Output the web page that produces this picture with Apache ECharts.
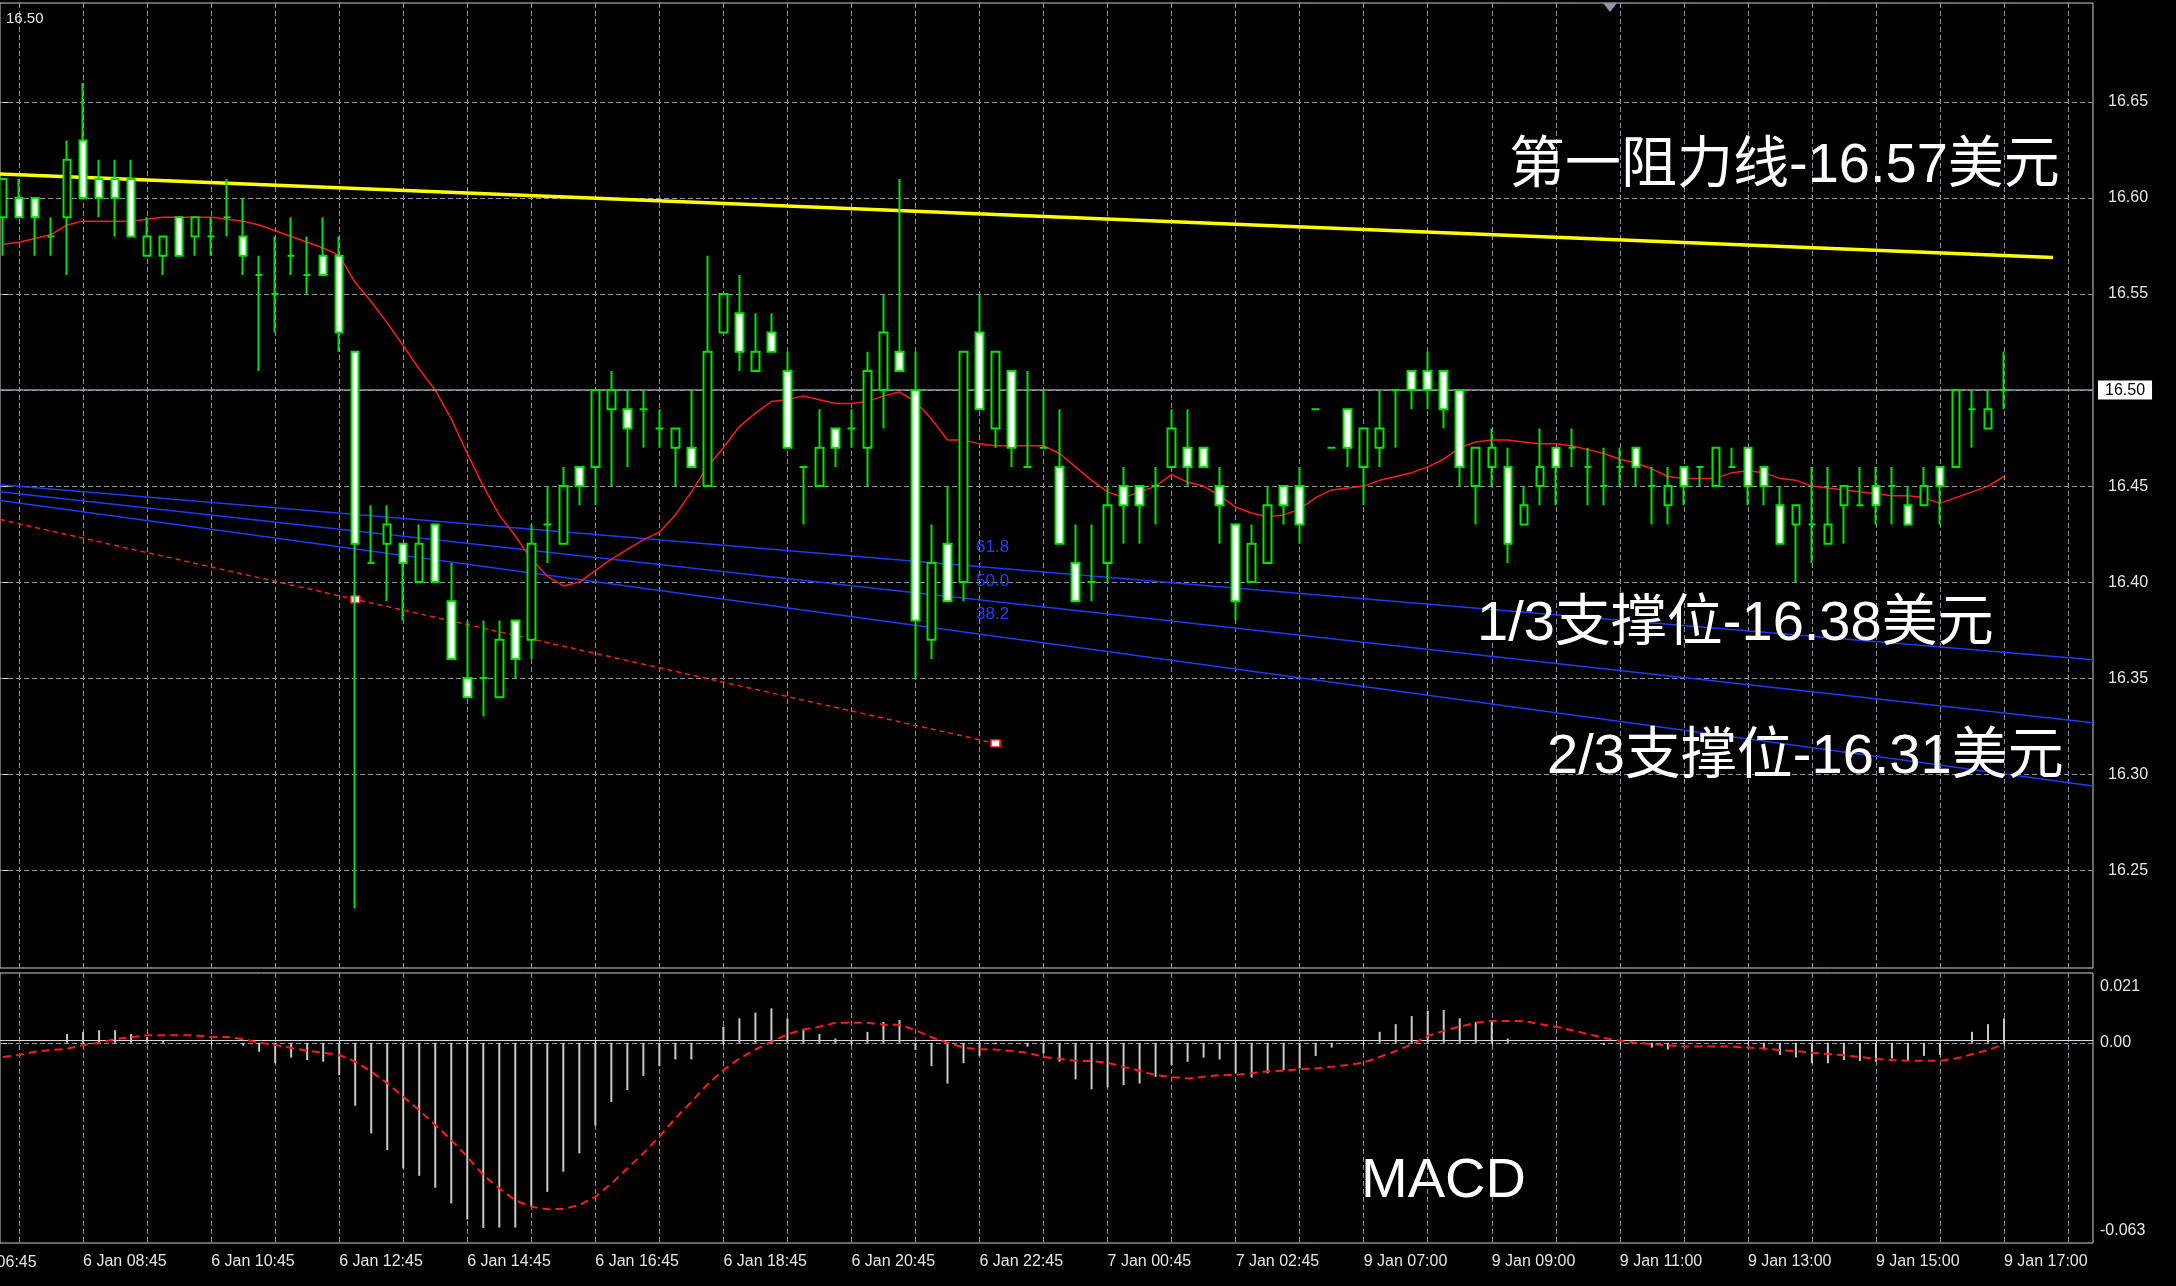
<!DOCTYPE html>
<html>
<head>
<meta charset="utf-8">
<script src="https://cdn.jsdelivr.net/npm/echarts@6/dist/echarts.min.js"></script>
<style>
html,body{margin:0;padding:0;background:#000;}
#chart{width:2176px;height:1286px;}
</style>
</head>
<body>
<div id="chart"></div>
<script>
// ---------- DATA (15-minute bars, k = 0..125) ----------
const opens = [16.59,16.60,16.60,16.58,16.59,16.63,16.61,16.61,16.61,16.57,
 16.57,16.59,16.58,16.58,16.59,16.58,16.56,16.55,16.57,16.56,
 16.57,16.57,16.52,16.41,16.42,16.42,16.40,16.43,16.39,16.35,
 16.35,16.34,16.38,16.37,16.43,16.42,16.46,16.46,16.49,16.49,
 16.49,16.48,16.47,16.47,16.45,16.53,16.54,16.51,16.53,16.51,
 16.46,16.45,16.48,16.48,16.47,16.50,16.52,16.50,16.37,16.42,
 16.40,16.53,16.48,16.51,16.46,16.47,16.46,16.41,16.40,16.41,
 16.45,16.45,16.45,16.46,16.47,16.47,16.45,16.43,16.40,16.41,
 16.45,16.45,16.49,16.47,16.49,16.46,16.47,16.50,16.51,16.51,
 16.51,16.50,16.45,16.46,16.46,16.43,16.45,16.47,16.47,16.46,
 16.45,16.46,16.47,16.45,16.44,16.46,16.46,16.45,16.46,16.47,
 16.46,16.44,16.43,16.43,16.42,16.44,16.44,16.45,16.45,16.44,
 16.44,16.46,16.46,16.49,16.48,16.50];
const closes = [16.61,16.59,16.59,16.58,16.62,16.60,16.60,16.60,16.58,16.58,
 16.58,16.57,16.59,16.58,16.59,16.57,16.56,16.55,16.57,16.56,
 16.56,16.53,16.42,16.41,16.43,16.41,16.42,16.40,16.36,16.34,
 16.35,16.37,16.36,16.42,16.43,16.45,16.45,16.50,16.50,16.48,
 16.49,16.48,16.48,16.46,16.52,16.55,16.52,16.52,16.52,16.47,
 16.46,16.47,16.47,16.48,16.51,16.53,16.51,16.38,16.41,16.39,
 16.52,16.49,16.52,16.47,16.46,16.47,16.42,16.39,16.40,16.44,
 16.44,16.44,16.45,16.48,16.46,16.46,16.44,16.39,16.42,16.44,
 16.44,16.43,16.49,16.47,16.47,16.48,16.48,16.50,16.50,16.50,
 16.49,16.46,16.47,16.47,16.42,16.44,16.46,16.46,16.47,16.46,
 16.45,16.46,16.46,16.45,16.45,16.45,16.46,16.47,16.46,16.45,
 16.45,16.42,16.44,16.43,16.43,16.45,16.44,16.44,16.45,16.43,
 16.45,16.45,16.50,16.49,16.49,16.50];
const lows = [16.57,16.59,16.57,16.57,16.56,16.60,16.59,16.58,16.58,16.57,
 16.56,16.57,16.57,16.57,16.58,16.56,16.51,16.53,16.56,16.55,
 16.56,16.52,16.23,16.41,16.39,16.38,16.40,16.40,16.36,16.34,
 16.33,16.34,16.35,16.36,16.41,16.42,16.44,16.44,16.45,16.46,
 16.47,16.47,16.45,16.46,16.45,16.53,16.51,16.51,16.52,16.47,
 16.43,16.45,16.46,16.47,16.45,16.48,16.51,16.35,16.36,16.39,
 16.39,16.49,16.47,16.46,16.46,16.47,16.42,16.39,16.39,16.40,
 16.42,16.42,16.43,16.46,16.45,16.46,16.42,16.38,16.40,16.41,
 16.43,16.42,16.49,16.47,16.46,16.44,16.46,16.47,16.49,16.49,
 16.48,16.45,16.43,16.45,16.41,16.43,16.44,16.44,16.46,16.44,
 16.44,16.45,16.45,16.43,16.43,16.44,16.45,16.45,16.46,16.44,
 16.44,16.42,16.40,16.41,16.42,16.42,16.44,16.43,16.43,16.43,
 16.44,16.43,16.46,16.47,16.48,16.49];
const highs = [16.61,16.61,16.60,16.59,16.63,16.66,16.62,16.62,16.62,16.59,
 16.58,16.59,16.59,16.59,16.61,16.60,16.57,16.58,16.59,16.58,
 16.59,16.58,16.52,16.44,16.44,16.42,16.43,16.43,16.41,16.38,
 16.38,16.38,16.38,16.43,16.45,16.46,16.46,16.50,16.51,16.50,
 16.50,16.49,16.48,16.50,16.57,16.55,16.56,16.54,16.54,16.52,
 16.46,16.49,16.48,16.49,16.52,16.55,16.61,16.52,16.43,16.45,
 16.52,16.55,16.52,16.51,16.51,16.50,16.49,16.43,16.43,16.45,
 16.46,16.45,16.46,16.49,16.49,16.47,16.46,16.43,16.43,16.45,
 16.45,16.46,16.49,16.47,16.49,16.48,16.50,16.50,16.51,16.52,
 16.51,16.50,16.47,16.48,16.47,16.45,16.48,16.47,16.48,16.47,
 16.47,16.47,16.47,16.46,16.46,16.46,16.46,16.47,16.47,16.47,
 16.46,16.45,16.44,16.46,16.46,16.45,16.46,16.46,16.46,16.45,
 16.46,16.46,16.50,16.50,16.50,16.52];
const maLine = [16.576,16.577,16.579,16.581,16.586,16.588,16.588,16.588,16.588,16.589,
 16.590,16.590,16.590,16.590,16.589,16.588,16.586,16.583,16.580,16.577,
 16.574,16.570,16.556,16.546,16.535,16.523,16.511,16.500,16.485,16.467,
 16.450,16.435,16.424,16.412,16.403,16.398,16.400,16.406,16.412,16.417,
 16.422,16.426,16.435,16.447,16.460,16.470,16.481,16.488,16.494,16.495,
 16.497,16.495,16.493,16.493,16.494,16.497,16.499,16.494,16.485,16.474,
 16.474,16.472,16.471,16.471,16.471,16.471,16.467,16.460,16.453,16.447,
 16.444,16.447,16.450,16.456,16.452,16.450,16.445,16.439,16.436,16.434,
 16.435,16.438,16.444,16.448,16.449,16.450,16.453,16.455,16.457,16.460,
 16.464,16.470,16.473,16.474,16.474,16.473,16.472,16.472,16.471,16.469,
 16.467,16.464,16.462,16.459,16.455,16.454,16.454,16.454,16.457,16.458,
 16.457,16.454,16.453,16.450,16.449,16.448,16.447,16.446,16.445,16.445,
 16.444,16.441,16.444,16.447,16.450,16.455];
const macdHist = [0,0,0,0,0.0027,0.0034,0.0039,0.0039,0.0027,0.0017,
 0.0008,0,0,0,0,-0.0009,-0.0028,-0.0064,-0.0046,-0.0054,
 -0.0059,-0.0101,-0.0196,-0.0282,-0.0334,-0.0391,-0.0414,-0.0451,-0.0500,-0.0550,
 -0.0576,-0.0575,-0.0575,-0.0510,-0.0464,-0.0401,-0.0344,-0.0258,-0.0184,-0.0147,
 -0.0103,-0.0073,-0.0052,-0.0052,0,0.0050,0.0076,0.0094,0.0107,0.0076,
 0.0041,0.0027,0.0013,0.0008,0.0034,0.0065,0.0071,-0.0023,-0.0073,-0.0127,
 -0.0064,-0.0041,-0.0005,0,-0.0012,-0.0033,-0.0059,-0.0114,-0.0145,-0.0139,
 -0.0132,-0.0127,-0.0106,-0.0069,-0.0059,-0.0046,-0.0052,-0.0095,-0.0108,-0.0095,
 -0.0085,-0.0080,-0.0041,-0.0015,0,0,0.0034,0.0058,0.0083,0.0100,
 0.0102,0.0076,0.0065,0.0065,0.0013,0,0,0,0,0,
 -0.0007,0,0,-0.0015,-0.0021,-0.0005,0,0,0,-0.0005,
 -0.0021,-0.0038,-0.0046,-0.0064,-0.0064,-0.0054,-0.0057,-0.0059,-0.0049,-0.0056,
 -0.0041,-0.0038,0,0.0034,0.0058,0.0076];
const macdSignal = [-0.0044,-0.0038,-0.0028,-0.0023,-0.0019,-0.0007,0.0000,0.0011,0.0017,0.0023,
 0.0023,0.0023,0.0023,0.0018,0.0018,0.0011,0.0000,-0.0007,-0.0016,-0.0025,
 -0.0031,-0.0038,-0.0059,-0.0090,-0.0126,-0.0168,-0.0210,-0.0256,-0.0303,-0.0355,
 -0.0412,-0.0453,-0.0490,-0.0510,-0.0518,-0.0517,-0.0505,-0.0479,-0.0438,-0.0391,
 -0.0344,-0.0292,-0.0235,-0.0184,-0.0130,-0.0085,-0.0049,-0.0021,0.0003,0.0026,
 0.0041,0.0050,0.0062,0.0062,0.0062,0.0056,0.0056,0.0039,0.0017,0.0000,
 -0.0015,-0.0020,-0.0021,-0.0026,-0.0031,-0.0044,-0.0050,-0.0056,-0.0057,-0.0062,
 -0.0075,-0.0087,-0.0101,-0.0107,-0.0111,-0.0106,-0.0101,-0.0100,-0.0095,-0.0089,
 -0.0087,-0.0082,-0.0080,-0.0075,-0.0069,-0.0062,-0.0044,-0.0026,-0.0005,0.0021,
 0.0037,0.0050,0.0062,0.0068,0.0068,0.0068,0.0058,0.0050,0.0039,0.0027,
 0.0015,0.0006,0.0000,-0.0004,-0.0008,-0.0012,-0.0012,-0.0012,-0.0012,-0.0015,
 -0.0018,-0.0023,-0.0026,-0.0031,-0.0035,-0.0039,-0.0044,-0.0050,-0.0054,-0.0056,
 -0.0056,-0.0056,-0.0049,-0.0036,-0.0023,-0.0004];
// trend lines: [barIndex, price]
const resistanceLine = [[-0.19, 16.6126], [128.06, 16.569]];
const fibLine1 = [[-0.19, 16.4507], [130.56, 16.3595]];
const fibLine2 = [[-0.19, 16.4470], [130.56, 16.3268]];
const fibLine3 = [[-0.19, 16.4425], [130.56, 16.2938]];
const redTrend = [[-0.19, 16.4326], [22, 16.391], [62, 16.316]];
const currentPrice = 16.50;
// axis ticks / labels
const priceTicks = [16.25, 16.30, 16.35, 16.40, 16.45, 16.50, 16.55, 16.60, 16.65];
const timeTickIdx = [5, 13, 21, 29, 37, 45, 53, 61, 69, 77, 85, 93, 101, 109, 117, 125];
const timeTickLabels = ['6 Jan 08:45','6 Jan 10:45','6 Jan 12:45','6 Jan 14:45','6 Jan 16:45',
 '6 Jan 18:45','6 Jan 20:45','6 Jan 22:45','7 Jan 00:45','7 Jan 02:45','9 Jan 07:00',
 '9 Jan 09:00','9 Jan 11:00','9 Jan 13:00','9 Jan 15:00','9 Jan 17:00'];
const gridIdx = [];
for (let k = 1; k <= 129; k += 4) gridIdx.push(k);

// ---------- BUILD ----------
const candles = opens.map((o, i) => [i, o, closes[i], lows[i], highs[i]]);
const maData = maLine.map((v, i) => [i, v]);
const histData = macdHist.map((v, i) => [i, v]);
const sigData = macdSignal.map((v, i) => [i, v]);

const FONT = 'Liberation Sans';
const GRID_C = '#8796a8';
const K0 = -0.19, K1 = 130.56;
const GREEN = '#00e400';
const RED = '#ff1a1a';

const chart = echarts.init(document.getElementById('chart'), null, {renderer: 'canvas'});
const option = {
  backgroundColor: '#000',
  animation: false,
  textStyle: {fontFamily: FONT},
  grid: [
    {left: 0, top: 3, width: 2093, height: 965, show: true, borderColor: '#cfcfcf', borderWidth: 1, outerBoundsMode: 'none', containLabel: false},
    {left: 0, top: 973, width: 2093, height: 270, show: true, borderColor: '#cfcfcf', borderWidth: 1, outerBoundsMode: 'none', containLabel: false}
  ],
  xAxis: [
    {type: 'value', gridIndex: 0, min: K0, max: K1,
     axisLine: {show: false}, axisLabel: {show: false},
     axisTick: {show: false, customValues: gridIdx},
     splitLine: {show: true, lineStyle: {color: GRID_C, width: 1, type: [5, 3]}}},
    {type: 'value', gridIndex: 1, min: K0, max: K1,
     axisLine: {show: false}, axisLabel: {show: false},
     axisTick: {show: false, customValues: gridIdx},
     splitLine: {show: true, lineStyle: {color: GRID_C, width: 1, type: [5, 3]}}},
    {type: 'value', gridIndex: 1, min: K0, max: K1, position: 'bottom',
     axisLine: {show: true, lineStyle: {color: '#d8d8d8', width: 1}},
     axisTick: {show: true, customValues: timeTickIdx, length: 5, lineStyle: {color: '#d8d8d8'}},
     axisLabel: {show: true, customValues: timeTickIdx, align: 'left', margin: 11,
       color: '#e6e6e6', fontSize: 16, fontFamily: FONT,
       formatter: v => timeTickLabels[timeTickIdx.indexOf(Math.round(v))] || ''},
     splitLine: {show: false}}
  ],
  yAxis: [
    {type: 'value', gridIndex: 0, position: 'right', min: 16.19901, max: 16.70161,
     axisLine: {show: false},
     axisTick: {show: true, customValues: priceTicks, length: 5, lineStyle: {color: '#d8d8d8'}},
     axisLabel: {show: true, customValues: priceTicks, margin: 15, color: '#e6e6e6', fontSize: 16, fontFamily: FONT,
       formatter: v => v.toFixed(2)},
     splitLine: {show: true, lineStyle: {color: GRID_C, width: 1, type: [5, 3]}}},
    {type: 'value', gridIndex: 1, position: 'right', min: -0.0623, max: 0.0217,
     axisLine: {show: false},
     axisTick: {show: true, customValues: [0], length: 4, lineStyle: {color: '#d8d8d8'}},
     axisLabel: {show: true, customValues: [0], margin: 7, color: '#e6e6e6', fontSize: 16, fontFamily: FONT,
       formatter: () => '0.00'},
     splitLine: {show: true, lineStyle: {color: GRID_C, width: 1, type: [5, 3]}}},
    {type: 'value', gridIndex: 1, position: 'right', min: -0.063, max: 0.021,
     axisLine: {show: false}, axisTick: {show: false, customValues: [0.021]},
     axisLabel: {show: true, customValues: [0.021], margin: 7, verticalAlign: 'top', padding: [6, 0, 0, 0],
       color: '#e6e6e6', fontSize: 16, fontFamily: FONT, formatter: v => v.toFixed(3)},
     splitLine: {show: false}},
    {type: 'value', gridIndex: 1, position: 'right', min: -0.063, max: 0.021,
     axisLine: {show: false}, axisTick: {show: false, customValues: [-0.063]},
     axisLabel: {show: true, customValues: [-0.063], margin: 7, verticalAlign: 'bottom', padding: [0, 0, 4, 0],
       color: '#e6e6e6', fontSize: 16, fontFamily: FONT, formatter: v => v.toFixed(3)},
     splitLine: {show: false}}
  ],
  series: [
    {type: 'line', name: 'resistance', xAxisIndex: 0, yAxisIndex: 0, data: resistanceLine,
     symbol: 'none', lineStyle: {color: '#ffff00', width: 3.5}, z: 3},
    {type: 'line', name: 'fib1', xAxisIndex: 0, yAxisIndex: 0, data: fibLine1,
     symbol: 'none', lineStyle: {color: '#1a3cff', width: 1.5}, z: 3},
    {type: 'line', name: 'fib2', xAxisIndex: 0, yAxisIndex: 0, data: fibLine2,
     symbol: 'none', lineStyle: {color: '#1a3cff', width: 1.5}, z: 3},
    {type: 'line', name: 'fib3', xAxisIndex: 0, yAxisIndex: 0, data: fibLine3,
     symbol: 'none', lineStyle: {color: '#1a3cff', width: 1.5}, z: 3},
    {type: 'line', name: 'trend', xAxisIndex: 0, yAxisIndex: 0,
     data: redTrend.map((p, i) => i === 0 ? {value: p, symbol: 'none'} :
       {value: p, symbol: 'rect', symbolSize: [9, 7], itemStyle: {color: '#ffffff', borderColor: RED, borderWidth: 1.5}}),
     showSymbol: true, lineStyle: {color: RED, width: 1.5, type: [5, 4]}, z: 4},
    {type: 'line', name: 'MA', xAxisIndex: 0, yAxisIndex: 0, data: maData,
     symbol: 'none', lineStyle: {color: RED, width: 1.5}, z: 3},
    {type: 'candlestick', name: 'price', xAxisIndex: 0, yAxisIndex: 0, data: candles,
     barWidth: 8, z: 5,
     itemStyle: {color: '#000000', color0: '#ffffff', borderColor: GREEN, borderColor0: GREEN,
       borderColorDoji: GREEN, borderWidth: 2},
     markLine: {silent: true, symbol: ['none', 'none'], animation: false,
       lineStyle: {color: '#8c99a6', width: 1.5, type: 'solid'},
       label: {show: true, position: 'end', distance: 5, formatter: '16.50', color: '#000',
         backgroundColor: '#ffffff', padding: [2, 7, 1, 7], fontSize: 16, fontFamily: FONT},
       data: [{yAxis: currentPrice}]}},
    {type: 'bar', name: 'MACD', xAxisIndex: 1, yAxisIndex: 1, data: histData,
     barWidth: 2, itemStyle: {color: '#c8c8c8'}, z: 3},
    {type: 'line', name: 'Signal', xAxisIndex: 1, yAxisIndex: 1, data: sigData,
     symbol: 'none', lineStyle: {color: RED, width: 2, type: [8, 5]}, z: 4}
  ],
  graphic: [
    {type: 'text', x: 6, y: 19, z: 100, style: {text: '16.50', fill: '#e6e6e6', font: '15px "Liberation Sans"', verticalAlign: 'middle'}},
    {type: 'polygon', z: 100, shape: {points: [[1603, 3], [1617, 3], [1610, 12]]}, style: {fill: '#8a98a8'}},
    {type: 'text', x: 1509, y: 167, z: 100, style: {text: '第一阻力线-16.57美元', fill: '#ffffff',
      font: '56px "Liberation Sans", "Noto Sans CJK SC"', verticalAlign: 'middle'}},
    {type: 'text', x: 1477, y: 625, z: 100, style: {text: '1/3支撑位-16.38美元', fill: '#ffffff',
      font: '56px "Liberation Sans", "Noto Sans CJK SC"', verticalAlign: 'middle'}},
    {type: 'text', x: 1547, y: 758, z: 100, style: {text: '2/3支撑位-16.31美元', fill: '#ffffff',
      font: '56px "Liberation Sans", "Noto Sans CJK SC"', verticalAlign: 'middle'}},
    {type: 'text', x: 1361, y: 1182, z: 100, style: {text: 'MACD', fill: '#ffffff',
      font: '56px "Liberation Sans"', verticalAlign: 'middle'}},
    {type: 'text', x: 976, y: 547, z: 100, style: {text: '61.8', fill: '#2040ff', font: '17px "Liberation Sans"', verticalAlign: 'middle'}},
    {type: 'text', x: 976, y: 581, z: 100, style: {text: '50.0', fill: '#2040ff', font: '17px "Liberation Sans"', verticalAlign: 'middle'}},
    {type: 'text', x: 976, y: 614, z: 100, style: {text: '38.2', fill: '#2040ff', font: '17px "Liberation Sans"', verticalAlign: 'middle'}},
    {type: 'text', x: -47, y: 1263, z: 100, style: {text: '6 Jan 06:45', fill: '#e6e6e6', font: '16px "Liberation Sans"', verticalAlign: 'middle'}}
  ]
};
chart.setOption(option);
</script>
</body>
</html>
